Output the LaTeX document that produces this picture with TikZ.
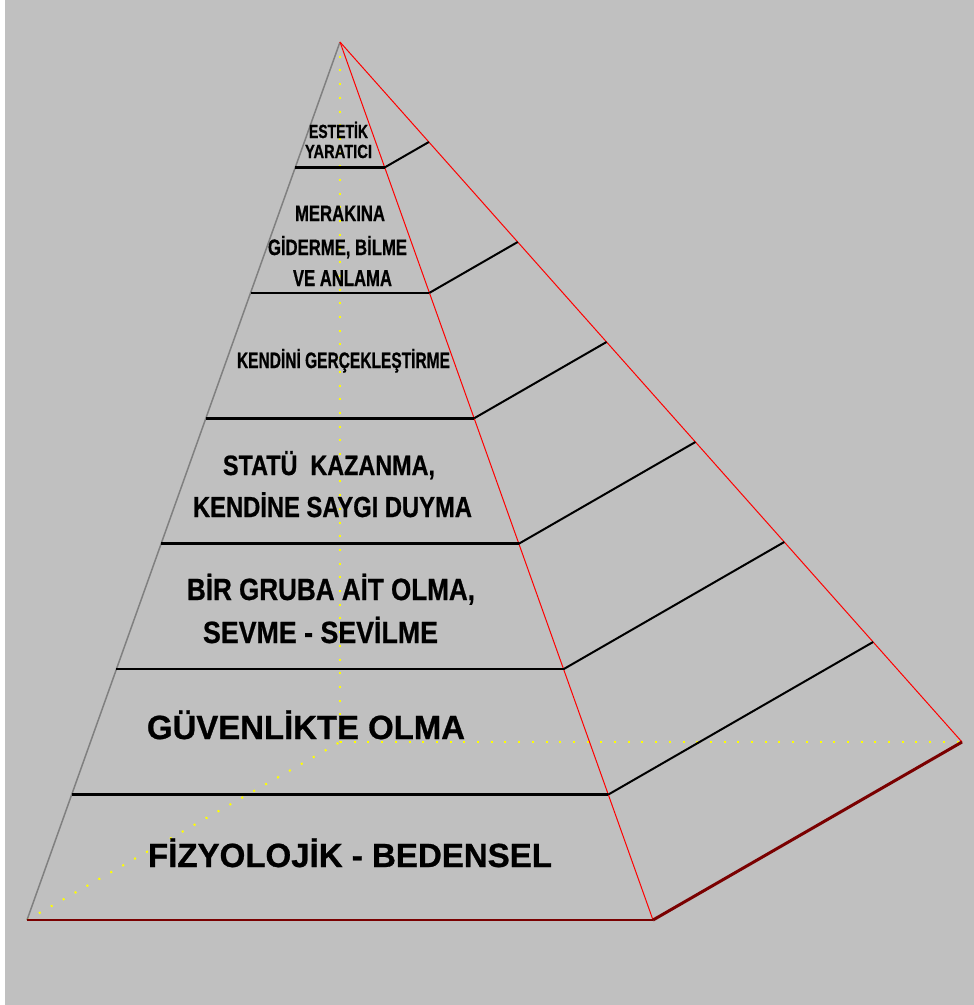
\documentclass[tikz,border=0pt]{standalone}
\usepackage{fontspec}
\setmainfont{Liberation Sans}[BoldFeatures={FakeBold=0.8}]
\usetikzlibrary{calc}
\definecolor{bggray}{HTML}{C0C0C0}
\definecolor{edgegray}{HTML}{808080}
\definecolor{darkred}{HTML}{7A0000}
\definecolor{dotyellow}{HTML}{FFFF00}
\newcommand{\lbl}[3]{\resizebox{#1pt}{\height}{\fontsize{#2}{#2}\selectfont\bfseries #3}}
\tikzset{
  hidden/.style={dotyellow, line width=2pt, dash pattern=on 2pt off 11.7pt},
  frontedge/.style={red, line width=1pt},
  leftedge/.style={edgegray, line width=1.5pt},
  baseedge/.style={darkred, line width=2.5pt},
  levelline/.style={black, line width=2.5pt},
  sideline/.style={black, line width=2pt},
  lab/.style={anchor=base, inner sep=0pt, text=black}
}
\begin{document}
\begin{tikzpicture}[x=1pt,y=-1pt]
\fill[white] (0,0) rectangle (974,1005);
\fill[bggray] (5,0) rectangle (974,1005);
\useasboundingbox (0,0) rectangle (974,1005);
% corners
\coordinate (A) at (340,42);
\coordinate (BL) at (27,920);
\coordinate (BR) at (653,920);
\coordinate (BRR) at (962,742);
\coordinate (H) at (340,742);
% hidden edges
\draw[hidden] (A) -- (H);
\draw[hidden] (BL) -- (H);
\draw[hidden] (H) -- (BRR);
% visible edges
\draw[leftedge] (A) -- (BL);
\draw[frontedge] (A) -- (BR);
\draw[frontedge] (A) -- (BRR);
\draw[baseedge] (BL) -- (BR);
\draw[baseedge, line width=3pt] (BR) -- (BRR);
% level lines
\foreach \k in {1,...,6} {
  \coordinate (L\k) at ($(A)!{\k/7}!(BL)$);
  \coordinate (R\k) at ($(A)!{\k/7}!(BR)$);
  \coordinate (P\k) at ($(A)!{\k/7}!(BRR)$);
  \draw[levelline] (L\k) -- (R\k);
  \draw[sideline] (R\k) -- (P\k);
}
% labels
\node[lab] (t1a) at (338.5,138) {\lbl{59}{19}{ESTETİK}};
\node[lab] (t1b) at (338.5,158) {\lbl{67}{19}{YARATICI}};
\node[lab] (t2a) at (340,221) {\lbl{90}{22.3}{MERAKINA}};
\node[lab] (t2b) at (337.5,255) {\lbl{139}{22.3}{GİDERME, BİLME}};
\node[lab] (t2c) at (342.5,286) {\lbl{99}{23}{VE ANLAMA}};
\node[lab] (t3) at (343.5,368) {\lbl{213}{22.3}{KENDİNİ GERÇEKLEŞTİRME}};
\node[lab] (t4a) at (329,475) {\lbl{212}{28}{STATÜ\ \ KAZANMA,}};
\node[lab] (t4b) at (332.5,517) {\lbl{279}{29}{KENDİNE SAYGI DUYMA}};
\node[lab] (t5a) at (331,600) {\lbl{288}{30.7}{BİR GRUBA AİT OLMA,}};
\node[lab] (t5b) at (320.5,643) {\lbl{235}{30.7}{SEVME - SEVİLME}};
\node[lab] (t6) at (306,739) {\lbl{318}{33.5}{GÜVENLİKTE OLMA}};
\node[lab] (t7) at (350,867) {\lbl{404}{33.5}{FİZYOLOJİK - BEDENSEL}};
\end{tikzpicture}
\end{document}
